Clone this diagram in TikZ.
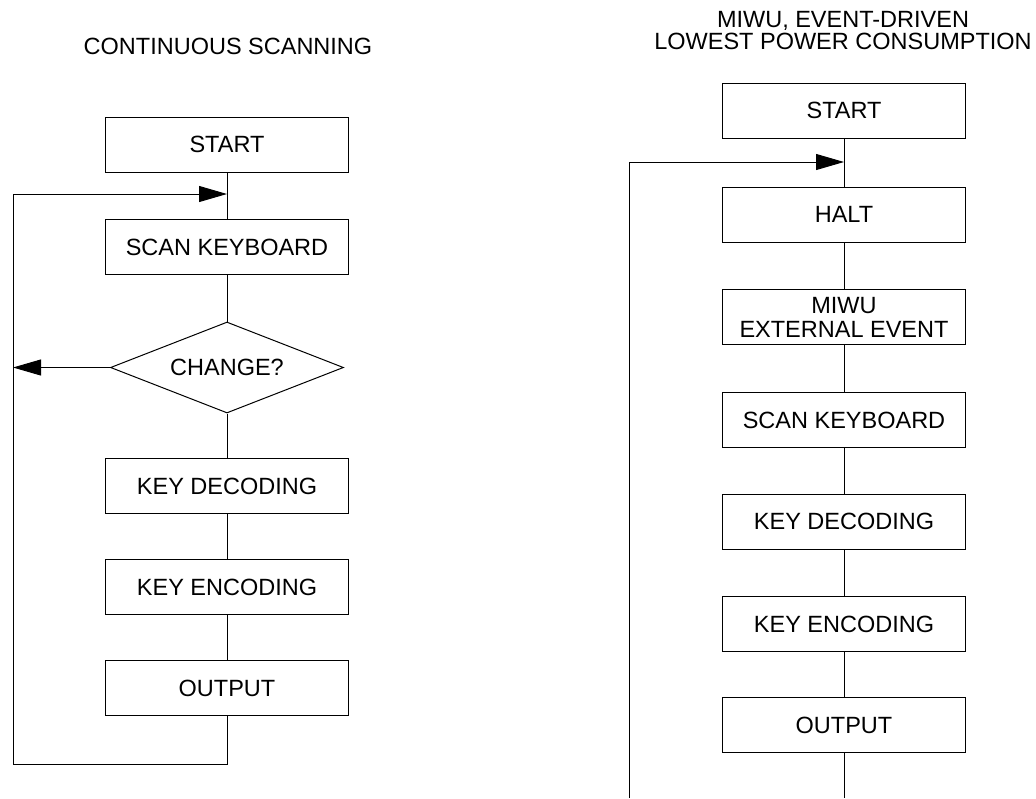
\documentclass[tikz,border=0pt]{standalone}
\usepackage{fontspec}
\setmainfont{Liberation Sans}
\usetikzlibrary{arrows.meta,shapes.geometric}
\begin{document}
\begin{tikzpicture}[x=1pt,y=-1pt,
  every node/.style={font=\fontsize{23.5}{21.5}\selectfont},
  flowbox/.style={draw, line width=1pt, minimum width=243pt, minimum height=55pt, inner sep=0pt, align=center},
  decision/.style={draw, diamond, line width=1pt, minimum width=233pt, minimum height=91pt, inner sep=0pt, aspect=2.56},
  link/.style={line width=1pt},
  arrowlink/.style={line width=1pt, -{Triangle[length=28pt,width=16pt]}},
  title/.style={inner sep=0pt, align=center}]
\useasboundingbox (0,0) rectangle (1036,798);

% ---------- left flowchart ----------
\node[title, anchor=base] (ltitle) at (228,54) {CONTINUOUS SCANNING};
\node[flowbox] (lstart) at (227,144.5) {START};
\node[flowbox] (lscan)  at (227,247) {SCAN KEYBOARD};
\node[decision] (lchg)  at (227,367.5) {CHANGE?};
\node[flowbox] (ldec)   at (227,486) {KEY DECODING};
\node[flowbox] (lenc)   at (227,587) {KEY ENCODING};
\node[flowbox] (lout)   at (227,688) {OUTPUT};

\coordinate (ljoin) at (227,194);
\coordinate (lbot)  at (227,764);
\coordinate (lbl)   at (13,764);
\coordinate (ltl)   at (13,194);
\coordinate (lside) at (13,367.5);

\draw[link] (lstart.south) -- (lscan.north);
\draw[link] (lscan.south) -- (lchg.north);
\draw[link] (lchg.south) -- (ldec.north);
\draw[link] (ldec.south) -- (lenc.north);
\draw[link] (lenc.south) -- (lout.north);
\draw[arrowlink] (lout.south) -- (lbot) -- (lbl) -- (ltl) -- (ljoin);
\draw[arrowlink] (lchg.west) -- (lside);

% ---------- right flowchart ----------
\node[title, anchor=north] (rtitle) at (843,11.5) {MIWU, EVENT-DRIVEN\\LOWEST POWER CONSUMPTION};
\node[flowbox] (rstart) at (844,110.5) {START};
\node[flowbox] (rhalt)  at (844,214.5) {HALT};
\node[flowbox, font=\fontsize{23.5}{24}\selectfont] (rmiwu) at (844,317) {MIWU\\EXTERNAL EVENT};
\node[flowbox] (rscan)  at (844,420) {SCAN KEYBOARD};
\node[flowbox] (rdec)   at (844,521.5) {KEY DECODING};
\node[flowbox] (renc)   at (844,624) {KEY ENCODING};
\node[flowbox] (rout)   at (844,725) {OUTPUT};

\coordinate (rjoin) at (844,162);
\coordinate (rbot)  at (844,798);
\coordinate (rbl)   at (629,798);
\coordinate (rtl)   at (629,162);

\draw[link] (rstart.south) -- (rhalt.north);
\draw[link] (rhalt.south) -- (rmiwu.north);
\draw[link] (rmiwu.south) -- (rscan.north);
\draw[link] (rscan.south) -- (rdec.north);
\draw[link] (rdec.south) -- (renc.north);
\draw[link] (renc.south) -- (rout.north);
\draw[link] (rout.south) -- (rbot);
\draw[arrowlink] (rbl) -- (rtl) -- (rjoin);
\end{tikzpicture}
\end{document}
